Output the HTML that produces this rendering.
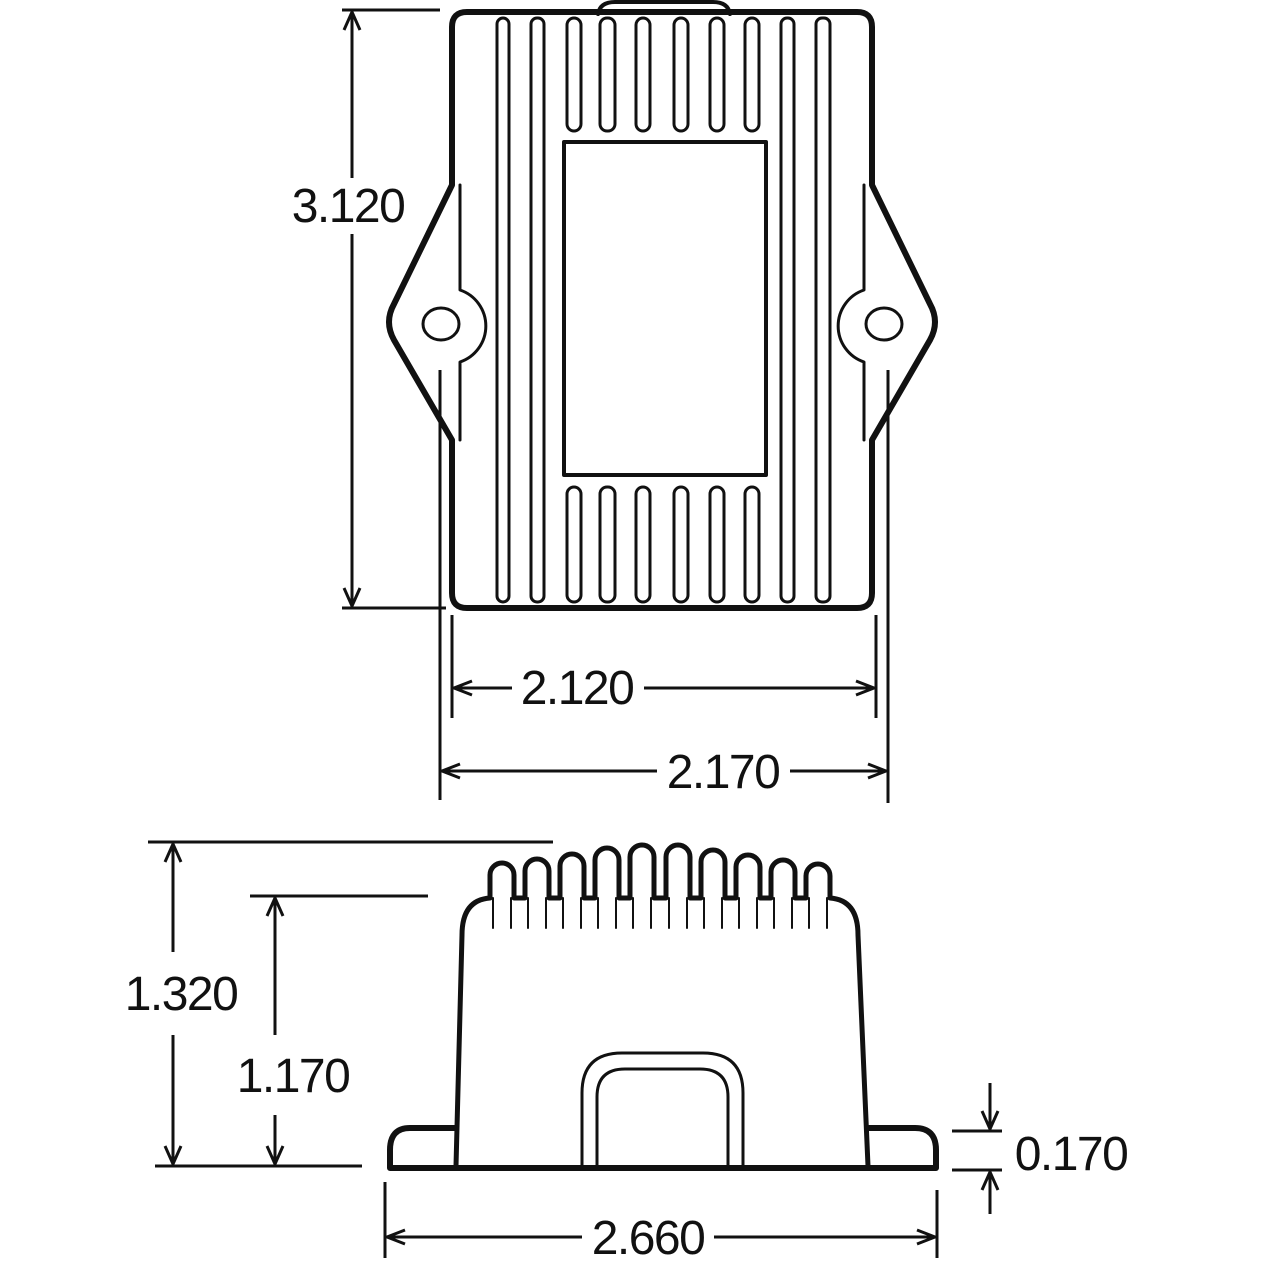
<!DOCTYPE html>
<html><head><meta charset="utf-8"><style>
html,body{margin:0;padding:0;background:#fff;}
svg{display:block}
text{font-family:"Liberation Sans",Arial,sans-serif;font-size:48px;fill:#111;letter-spacing:-1.5px}
</style></head><body>
<svg width="1280" height="1280" viewBox="0 0 1280 1280" xmlns="http://www.w3.org/2000/svg">
<rect width="1280" height="1280" fill="#fff"/>
<g fill="none" stroke="#111" stroke-linejoin="round" stroke-linecap="round">
<!-- top view body -->
<path d="M598 14 Q600 2 615 2 L713 2 Q728 2 730 14" stroke-width="4"/>
<path d="M467 12 L857 12 Q872 12 872 27 L872 185 L930 304 Q940 322 930 340 L872 440 L872 593 Q872 608 857 608 L467 608 Q452 608 452 593 L452 440 L394 340 Q384 322 394 304 L452 185 L452 27 Q452 12 467 12 Z" stroke-width="6"/>
<path d="M460 185 L460 290 A38 38 0 0 1 460 362 L460 440" stroke-width="3"/>
<path d="M864 185 L864 290 A38 38 0 0 0 864 362 L864 440" stroke-width="3"/>
<ellipse cx="441" cy="324" rx="18" ry="16" stroke-width="3"/>
<ellipse cx="884" cy="324" rx="18" ry="16" stroke-width="3"/>
<rect x="564" y="142" width="202" height="333" stroke-width="4"/>
<g stroke-width="3">
<rect x="497" y="18" width="12" height="584" rx="6"/>
<rect x="531" y="18" width="13" height="584" rx="6"/>
<rect x="781" y="18" width="13" height="584" rx="6"/>
<rect x="816" y="18" width="14" height="584" rx="6"/>
<rect x="567" y="18" width="14" height="113" rx="7"/>
<rect x="600" y="18" width="15" height="113" rx="7"/>
<rect x="636" y="18" width="14" height="113" rx="7"/>
<rect x="674" y="18" width="14" height="113" rx="7"/>
<rect x="710" y="18" width="14" height="113" rx="7"/>
<rect x="745" y="18" width="14" height="113" rx="7"/>
<rect x="567" y="487" width="14" height="115" rx="7"/>
<rect x="600" y="487" width="15" height="115" rx="7"/>
<rect x="636" y="487" width="14" height="115" rx="7"/>
<rect x="674" y="487" width="14" height="115" rx="7"/>
<rect x="710" y="487" width="14" height="115" rx="7"/>
<rect x="745" y="487" width="14" height="115" rx="7"/>
</g>
<!-- top view dims -->
<g stroke-width="3" stroke-linecap="butt">
<line x1="342" y1="10" x2="440" y2="10"/>
<line x1="342" y1="608" x2="446" y2="608"/>
<line x1="352" y1="12" x2="352" y2="178"/>
<line x1="352" y1="234" x2="352" y2="606"/>
<polyline points="344,30 352,12 360,30"/>
<polyline points="344,588 352,606 360,588"/>
<line x1="440" y1="370" x2="440" y2="800"/>
<line x1="888" y1="370" x2="888" y2="803"/>
<line x1="452" y1="615" x2="452" y2="718"/>
<line x1="876" y1="615" x2="876" y2="718"/>
<line x1="454" y1="688" x2="512" y2="688"/>
<line x1="644" y1="688" x2="874" y2="688"/>
<polyline points="472,681 454,688 472,695"/>
<polyline points="856,681 874,688 856,695"/>
<line x1="442" y1="771" x2="657" y2="771"/>
<line x1="790" y1="771" x2="886" y2="771"/>
<polyline points="460,764 442,771 460,778"/>
<polyline points="868,764 886,771 868,778"/>
</g>
<!-- side view -->
<path d="M456 1166 L462 935 Q462 900 490 898 L490 875 A12 12 0 0 1 514 875 L514 898 L525 898 L525 871 A12 12 0 0 1 549 871 L549 898 L560 898 L560 866 A12 12 0 0 1 584 866 L584 898 L595 898 L595 860 A12 12 0 0 1 619 860 L619 898 L630 898 L630 857 A12 12 0 0 1 654 857 L654 898 L666 898 L666 857 A12 12 0 0 1 690 857 L690 898 L701 898 L701 862 A12 12 0 0 1 725 862 L725 898 L736 898 L736 867 A12 12 0 0 1 760 867 L760 898 L771 898 L771 872 A12 12 0 0 1 795 872 L795 898 L806 898 L806 876 A12 12 0 0 1 830 876 L830 898 Q858 900 858 935 L868 1166" stroke-width="5"/>
<path d="M456 1128 L410 1128 Q390 1128 390 1150 L390 1168 L936 1168 L936 1150 Q936 1128 915 1128 L869 1128" stroke-width="6"/>
<g stroke-width="2">
<path d="M493 898 L493 928 M511 898 L511 928 M528 898 L528 928 M546 898 L546 928 M563 898 L563 928 M581 898 L581 928 M598 898 L598 928 M616 898 L616 928 M633 898 L633 928 M651 898 L651 928 M669 898 L669 928 M687 898 L687 928 M704 898 L704 928 M722 898 L722 928 M739 898 L739 928 M757 898 L757 928 M774 898 L774 928 M792 898 L792 928 M809 898 L809 928 M827 898 L827 928"/>
</g>
<path d="M582 1166 L582 1093 Q582 1053 622 1053 L703 1053 Q743 1053 743 1093 L743 1166" stroke-width="3"/>
<path d="M597 1166 L597 1097 Q597 1069 625 1069 L700 1069 Q728 1069 728 1097 L728 1166" stroke-width="3"/>
<!-- side dims -->
<g stroke-width="3" stroke-linecap="butt">
<line x1="148" y1="842" x2="553" y2="842"/>
<line x1="250" y1="896" x2="428" y2="896"/>
<line x1="155" y1="1166" x2="362" y2="1166"/>
<line x1="173" y1="844" x2="173" y2="952"/>
<line x1="173" y1="1035" x2="173" y2="1164"/>
<polyline points="165,862 173,844 181,862"/>
<polyline points="165,1146 173,1164 181,1146"/>
<line x1="275" y1="898" x2="275" y2="1035"/>
<line x1="275" y1="1115" x2="275" y2="1164"/>
<polyline points="267,916 275,898 283,916"/>
<polyline points="267,1146 275,1164 283,1146"/>
<line x1="952" y1="1131" x2="1002" y2="1131"/>
<line x1="952" y1="1170" x2="1002" y2="1170"/>
<line x1="990" y1="1083" x2="990" y2="1129"/>
<polyline points="982,1111 990,1129 998,1111"/>
<line x1="990" y1="1214" x2="990" y2="1172"/>
<polyline points="982,1190 990,1172 998,1190"/>
<line x1="385" y1="1182" x2="385" y2="1258"/>
<line x1="937" y1="1190" x2="937" y2="1258"/>
<line x1="387" y1="1237" x2="582" y2="1237"/>
<line x1="714" y1="1237" x2="935" y2="1237"/>
<polyline points="405,1230 387,1237 405,1244"/>
<polyline points="917,1230 935,1237 917,1244"/>
</g>
</g>
<text x="348" y="222" text-anchor="middle">3.120</text>
<text x="577" y="704" text-anchor="middle">2.120</text>
<text x="723" y="788" text-anchor="middle">2.170</text>
<text x="181" y="1010" text-anchor="middle">1.320</text>
<text x="293" y="1092" text-anchor="middle">1.170</text>
<text x="1071" y="1170" text-anchor="middle">0.170</text>
<text x="648" y="1254" text-anchor="middle">2.660</text>
</svg>
</body></html>
